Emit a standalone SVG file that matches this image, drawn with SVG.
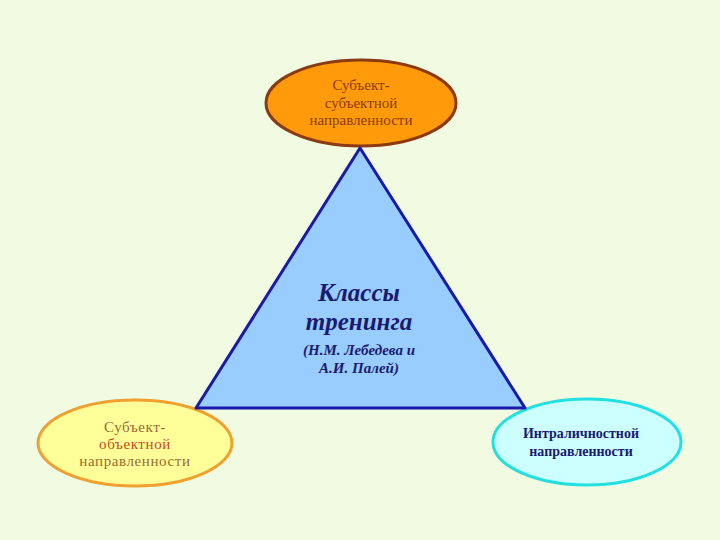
<svg xmlns="http://www.w3.org/2000/svg" width="720" height="540" viewBox="0 0 720 540">
<style>
.t{font-family:"Liberation Serif","DejaVu Serif",serif;text-anchor:middle}
.s{font-size:15px}
.big{font-size:25px;font-weight:bold;font-style:italic;fill:#1a1a6e}
.mid{font-size:15px;font-weight:bold;font-style:italic;fill:#1a1a6e}
</style>
<rect width="720" height="540" fill="#f0fbe2"/>
<g id="node-top">
<ellipse cx="361" cy="103" rx="95" ry="43" fill="#ff9a0a" stroke="#8b3a12" stroke-width="3"/>
<text class="t s" fill="#8b3a12"><tspan x="361" y="90">Субъект-</tspan><tspan x="361" y="108">субъектной</tspan><tspan x="361" y="125">направленности</tspan></text>
</g>
<g id="node-left">
<ellipse cx="135" cy="443" rx="97" ry="43" fill="#ffff99" stroke="#f0a030" stroke-width="3"/>
<text class="t s" fill="#9a6a30" letter-spacing="0.6"><tspan x="135" y="432">Субъект-</tspan><tspan x="135" y="449" fill="#c84a1a">объектной</tspan><tspan x="135" y="466">направленности</tspan></text>
</g>
<g id="node-right">
<ellipse cx="587" cy="442" rx="94" ry="43" fill="#ccffff" stroke="#22e0e0" stroke-width="3"/>
<text class="t" font-size="14" fill="#1a1a6e" font-weight="bold"><tspan x="581" y="438">Интраличностной</tspan><tspan x="581" y="456">направленности</tspan></text>
</g>
<g id="node-center">
<polygon points="360,148 196,408 525,408" fill="#99ccff" stroke="#1a1aaa" stroke-width="3" stroke-linejoin="round"/>
<text class="t"><tspan class="big" x="359" y="301">Классы</tspan><tspan class="big" x="359" y="330">тренинга</tspan><tspan class="mid" x="359" y="355">(Н.М. Лебедева и</tspan><tspan class="mid" x="359" y="373">А.И. Палей)</tspan></text>
</g>
<g id="connectors"></g>
</svg>
